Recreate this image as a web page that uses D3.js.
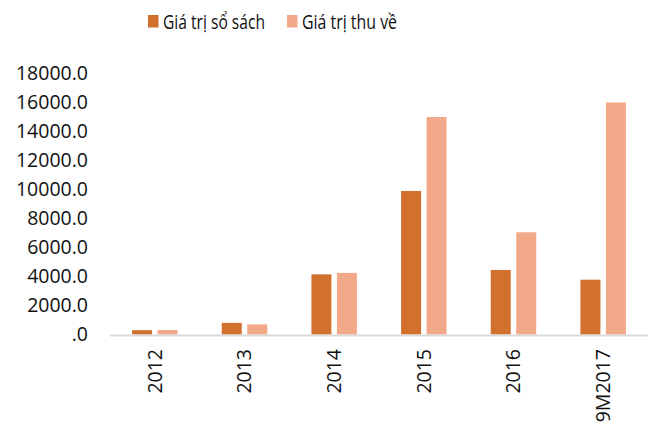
<!DOCTYPE html>
<html>
<head>
<meta charset="utf-8">
<script src="https://cdn.jsdelivr.net/npm/d3@7"></script>
<style>
  body { margin: 0; background: #fff; }
  text { font-family: "Open Sans", sans-serif; fill: #111; }
</style>
</head>
<body>
<div id="chart"></div>
<script>
// data
const categories = ['2012', '2013', '2014', '2015', '2016', '9M2017']
const bookValue = [300, 800, 4150, 9900, 4450, 3780]
const recovered = [310, 700, 4250, 15000, 7050, 16000]
const seriesNames = ['Giá trị sổ sách', 'Giá trị thu về']
const colors = ['#D2702D', '#F1A98A']
const yTicks = [0, 2000, 4000, 6000, 8000, 10000, 12000, 14000, 16000, 18000]

const width = 654, height = 430
const margin = {top: 73.5, right: 6, bottom: 95.5, left: 110}

const svg = d3.select('#chart')
    .append('svg')
        .attr('width', width)
        .attr('height', height)

const x = d3.scaleBand()
    .domain(categories)
    .range([margin.left, width - margin.right])

const y = d3.scaleLinear()
    .domain([0, 18000])
    .range([height - margin.bottom, margin.top])

const barW = 20, gap = 5.5

// y labels, no axis line
svg.append('g')
    .selectAll('text')
    .data(yTicks)
    .enter().append('text')
        .attr('x', 88)
        .attr('y', d => y(d))
        .attr('dy', '0.35em')
        .attr('text-anchor', 'end')
        .style('font-size', '19.5px')
        .text(d => d === 0 ? '.0' : d3.format('.1f')(d))

const series = [bookValue, recovered]
series.forEach((vals, s) => {
    svg.append('g')
        .selectAll('rect')
        .data(vals)
        .enter().append('rect')
            .attr('x', (d, i) => x(categories[i]) + x.bandwidth() / 2 + (s === 0 ? -gap / 2 - barW : gap / 2))
            .attr('y', d => y(d))
            .attr('width', barW)
            .attr('height', d => y(0) - y(d))
            .attr('fill', colors[s])
})

// baseline
svg.append('line')
    .attr('x1', margin.left)
    .attr('x2', width - margin.right)
    .attr('y1', y(0) + 1)
    .attr('y2', y(0) + 1)
    .attr('stroke', '#d9d9d9')
    .attr('stroke-width', 2)

// rotated category labels
svg.append('g')
    .selectAll('text')
    .data(categories)
    .enter().append('text')
        .attr('transform', d => `translate(${x(d) + x.bandwidth() / 2}, 349) rotate(-90)`)
        .attr('text-anchor', 'end')
        .attr('dy', '0.35em')
        .style('font-size', '19.5px')
        .text(d => d)

// legend - original font is condensed, squeeze to same width
const legend = svg.append('g')
const legendX = [148, 287]
const legendW = [102, 95]
seriesNames.forEach((name, i) => {
    legend.append('rect')
        .attr('x', legendX[i])
        .attr('y', 15)
        .attr('width', 10.5)
        .attr('height', 12.5)
        .attr('fill', colors[i])
    legend.append('text')
        .attr('x', legendX[i] + 15)
        .attr('y', 21.5)
        .attr('dy', '0.35em')
        .attr('textLength', legendW[i])
        .attr('lengthAdjust', 'spacingAndGlyphs')
        .style('font-size', '20px')
        .text(name)
})
</script>
</body>
</html>
